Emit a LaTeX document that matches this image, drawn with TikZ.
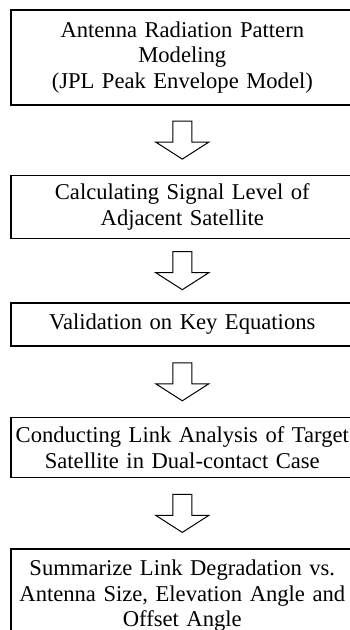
\documentclass[tikz,border=0pt]{standalone}
\usepackage{fontspec}
\setmainfont{Liberation Serif}
\usetikzlibrary{positioning}
\usetikzlibrary{calc}

\begin{document}
\begin{tikzpicture}[
stepbox/.style={rectangle, draw, line width=1.6pt, minimum width=343pt, text width=337pt,
  inner sep=3pt, align=center, font=\fontsize{22.6}{25.5}\selectfont},
blockarrow/.style={draw, line width=1pt, fill=white, line join=miter},
]
\clip (0,0) rectangle (350pt,-630pt);

%Nodes
\node[stepbox, minimum height=95pt, anchor=north west] (b1) at (10pt,-9pt)
  {Antenna Radiation Pattern\\ Modeling\\ (JPL Peak Envelope Model)};
\node[stepbox, minimum height=63pt] (b2) [below=69pt of b1] {Calculating Signal Level of\\ Adjacent Satellite};
\node[stepbox, minimum height=43pt] (b3) [below=63pt of b2] {Validation on Key Equations};
\node[stepbox, minimum height=60pt] (b4) [below=70pt of b3] {Conducting Link Analysis of Target\\ Satellite in Dual-contact Case};
\node[stepbox, minimum height=93pt] (b5) [below=70pt of b4] {Summarize Link Degradation vs.\\ Antenna Size, Elevation Angle and\\ Offset Angle};

%Arrows
\foreach \a/\b in {b1/b2, b2/b3, b3/b4, b4/b5}{
  \coordinate (m) at ($(\a.south)!0.5!(\b.north)$);
  \draw[blockarrow] (m) ++(-9.5pt,19pt) -- ++(19pt,0) -- ++(0,-21pt) -- ++(17pt,0)
    -- ++(-26.5pt,-17pt) -- ++(-26.5pt,17pt) -- ++(17pt,0) -- cycle;
}
\end{tikzpicture}
\end{document}
